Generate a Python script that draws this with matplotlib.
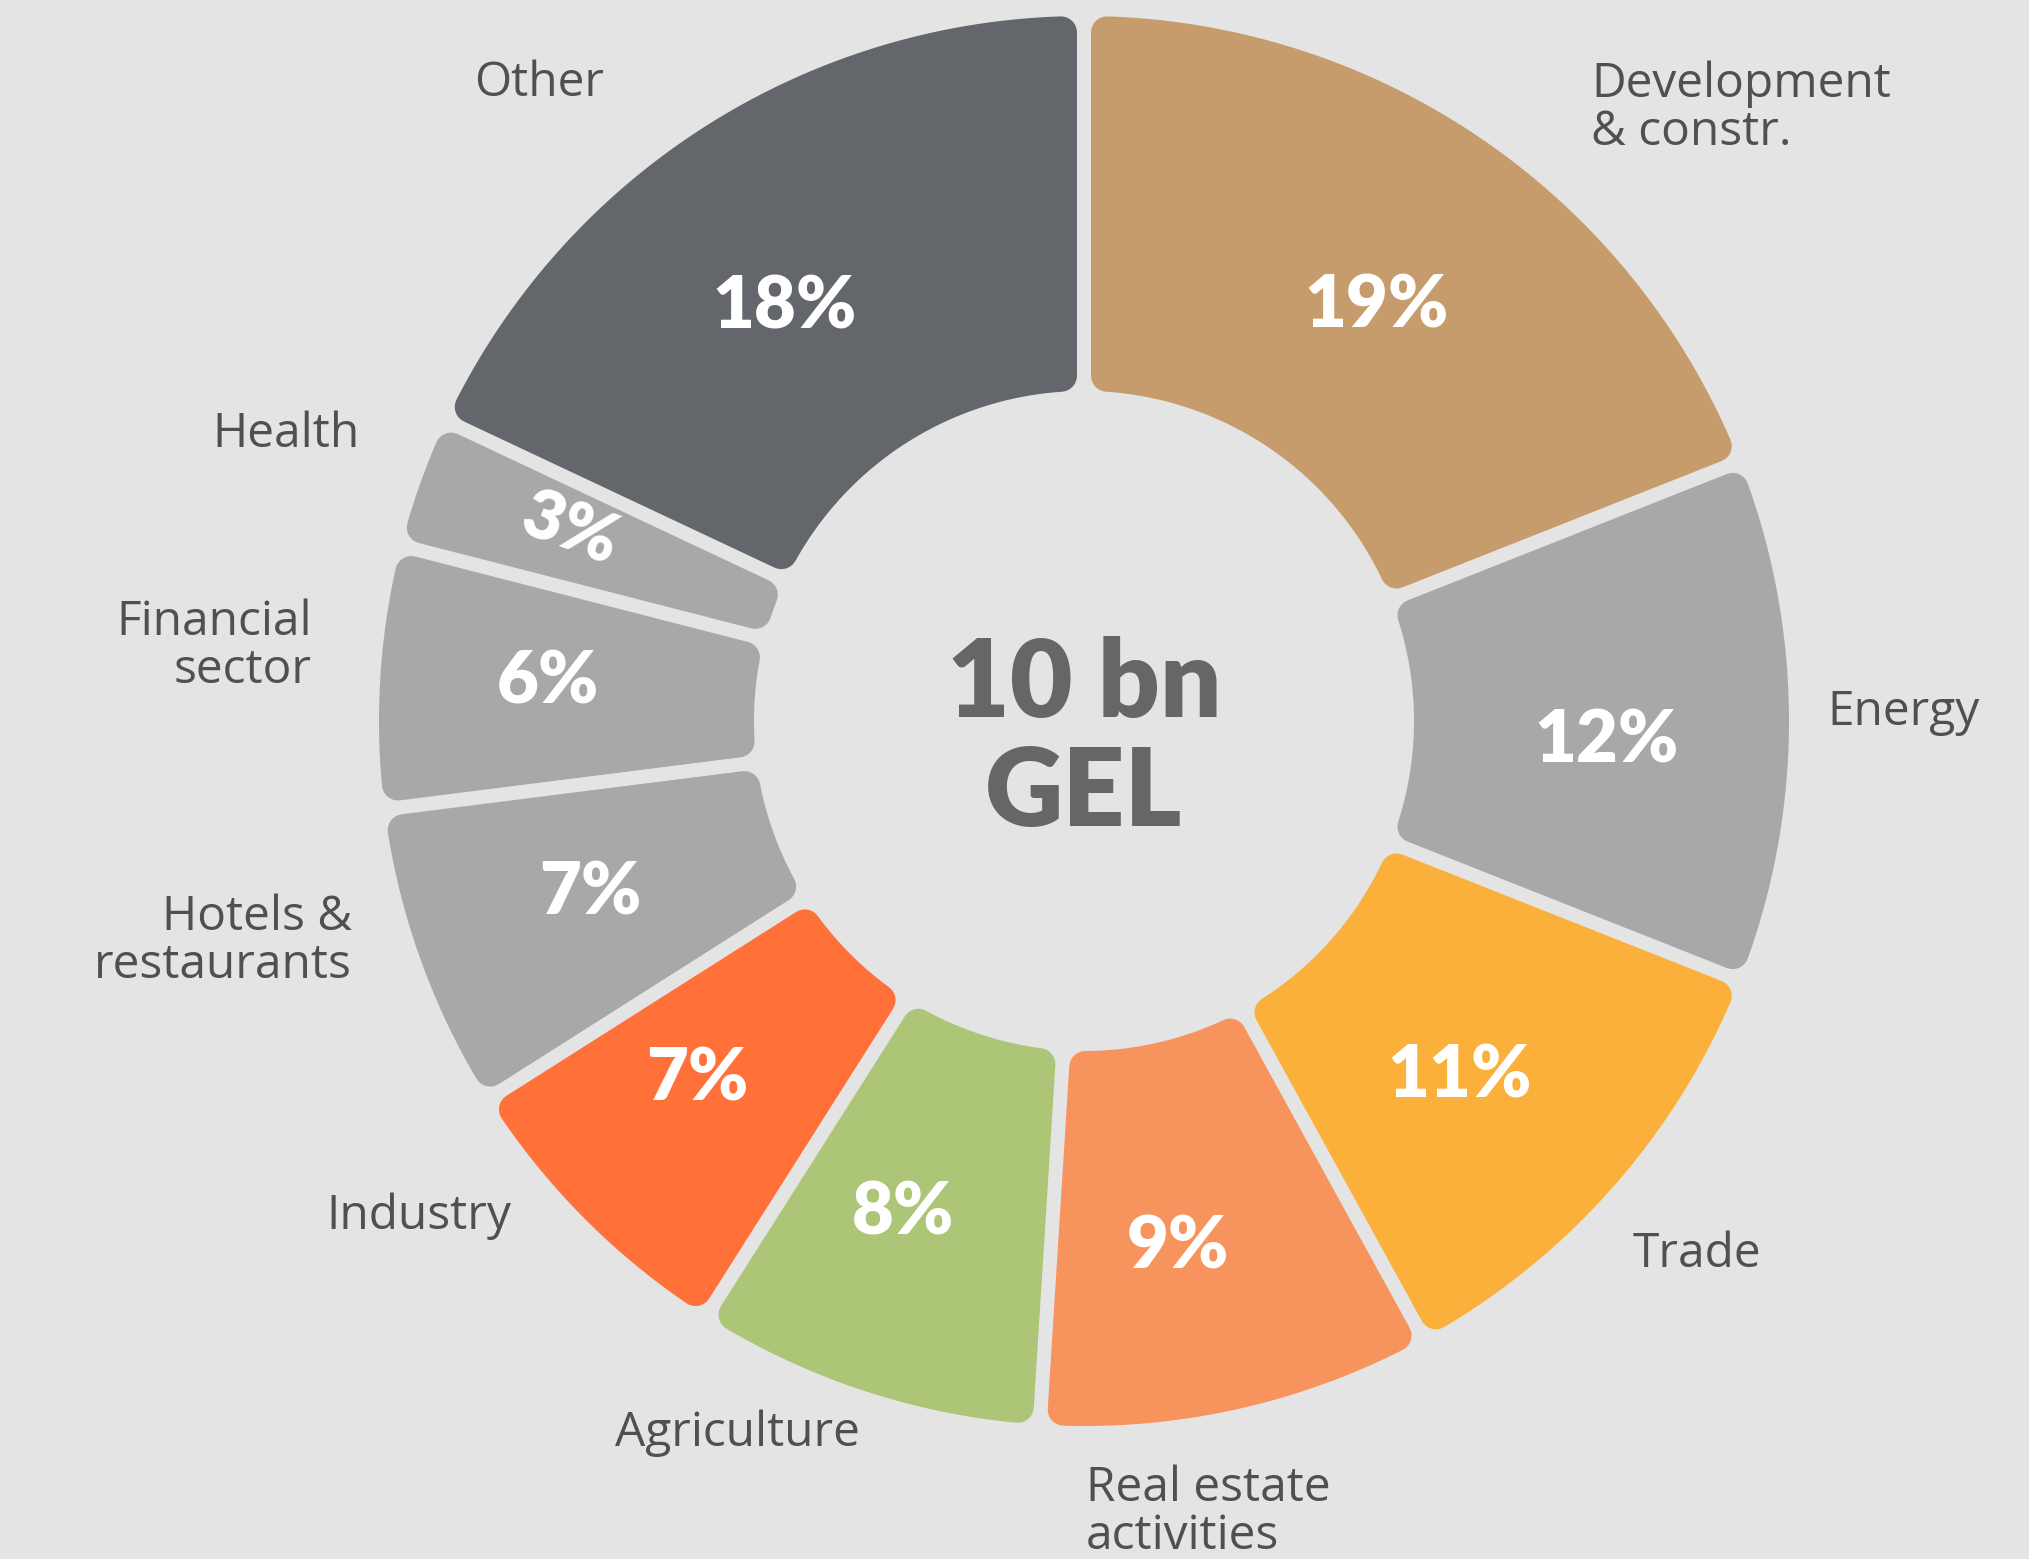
import numpy as np
import matplotlib.pyplot as plt
from matplotlib.patches import Polygon

# sector shares of the loan portfolio, clockwise from 12 o'clock
sectors = ['Development\n& constr.', 'Energy', 'Trade', 'Real estate\nactivities',
           'Agriculture', 'Industry', 'Hotels &\nrestaurants', 'Financial\nsector',
           'Health', 'Other']
shares = [19, 12, 11, 9, 8, 7, 7, 6, 3, 18]
colors = ['#c69c6d', '#a7a8aa', '#fbb03b', '#f7935d', '#adc576',
          '#ff7139', '#a7a8aa', '#a7a8aa', '#a7a8aa', '#63666a']
total_text = ['10 bn', 'GEL']

bg = '#e4e4e4'
W, H = 2029, 1559
cx, cy = 1084, 721
r_out, r_in = 705, 330
gap, corner = 14, 16

# small hand nudges (degrees) for the percentage labels, as in the original layout
pct_nudge = [-0.7, -1.7, -1.6, -2.4, -2.4, -2.6, -1.1, -1.0, -0.5, 3.2]
pct_radius = [511, 523, 514, 530, 520, 524, 521, 538, 549, 515]

# sector name anchors: (x, first baseline, ha)
name_pos = [(1591, 97, 'left'), (1827, 725, 'left'), (1633, 1267, 'left'),
            (1086, 1501, 'left'), (737, 1446, 'center'), (511, 1229, 'right'),
            (352, 930, 'right'), (312, 635, 'right'), (360, 447, 'right'),
            (539, 96, 'center')]

fig = plt.figure(figsize=(W / 100, H / 100), dpi=100, facecolor=bg)
ax = fig.add_axes([0, 0, 1, 1])
ax.set_xlim(0, W)
ax.set_ylim(H, 0)
ax.set_facecolor(bg)
ax.axis('off')

lw = 2 * corner * 72 / 100  # stroke width in points so corners get rounded
d = gap / 2 + corner
ro, ri = r_out - corner, r_in + corner

def pt(r, t):
    return cx + r * np.cos(t), cy - r * np.sin(t)

start = 90.0
mids = []
for share, col in zip(shares, colors):
    sweep = share / 100 * 360
    t2 = np.radians(start)
    t1 = np.radians(start - sweep)
    mids.append(start - sweep / 2)
    start -= sweep
    ao = np.arcsin(d / ro)
    ai = np.arcsin(d / ri)
    outer = np.linspace(t1 + ao, t2 - ao, 80)
    inner = np.linspace(t2 - ai, t1 + ai, 40)
    pts = [pt(ro, t) for t in outer] + [pt(ri, t) for t in inner]
    ax.add_patch(Polygon(pts, closed=True, facecolor=col, edgecolor=col,
                         linewidth=lw, joinstyle='round'))

# percentage labels inside the ring
cap = 26  # half cap height in px, to centre digits visually
for share, m, nd, r in zip(shares, mids, pct_nudge, pct_radius):
    t = np.radians(m + nd)
    x, y = pt(r, t)
    if share < 5:
        rot = np.degrees(t) + 180
        ax.text(x, y, f'{share}%', ha='center', va='center', color='white',
                fontsize=50, fontweight='heavy', family='Lato', rotation=rot)
    else:
        ax.text(x, y + cap, f'{share}%', ha='center', va='baseline', color='white',
                fontsize=52, fontweight='heavy', family='Lato')

# sector names around the ring
for name, (x, y, ha) in zip(sectors, name_pos):
    for i, line in enumerate(name.split('\n')):
        ax.text(x, y + i * 48, line, ha=ha, va='baseline', color='#505050',
                fontsize=34.5, family='Open Sans')

ax.text(cx, 717, total_text[0], ha='center', va='baseline', color='#666666',
        fontsize=78, fontweight='heavy', family='Lato')
ax.text(cx, 826, total_text[1], ha='center', va='baseline', color='#666666',
        fontsize=78, fontweight='heavy', family='Lato')

fig.savefig('out.png', dpi=100, facecolor=bg)
